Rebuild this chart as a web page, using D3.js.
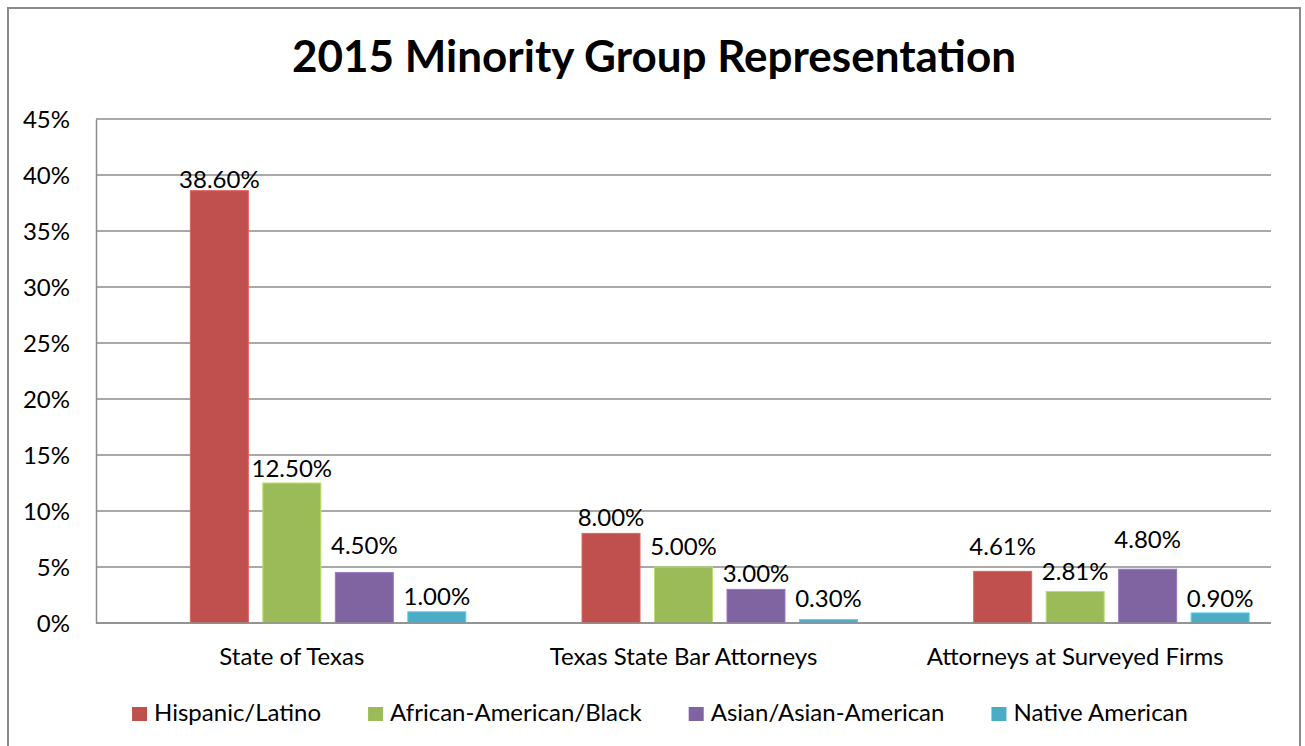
<!DOCTYPE html>
<html>
<head>
<meta charset="utf-8">
<script src="https://cdn.jsdelivr.net/npm/d3@7"></script>
<style>
  html, body { margin: 0; padding: 0; background: #fff; }
  svg { display: block; font-family: Lato, "Open Sans", sans-serif; }
</style>
</head>
<body>
<div id="chart"></div>
<script>
//
// DATA
//

const categories = ['State of Texas', 'Texas State Bar Attorneys', 'Attorneys at Surveyed Firms'];
const seriesNames = ['Hispanic/Latino', 'African-American/Black', 'Asian/Asian-American', 'Native American'];

// percent values, one per category
const hispanic = [38.60, 8.00, 4.61];
const african = [12.50, 5.00, 2.81];
const asian = [4.50, 3.00, 4.80];
const native = [1.00, 0.30, 0.90];

// where Excel put each data label (in % on the value axis)
const hispanicLabelAt = [39.6, 9.4, 6.8];
const africanLabelAt = [13.8, 6.8, 4.6];
const asianLabelAt = [6.9, 4.4, 7.5];
const nativeLabelAt = [2.4, 2.2, 2.2];

const yTicks = [0, 5, 10, 15, 20, 25, 30, 35, 40, 45];

const colors = ['#C0504D', '#9BBB59', '#8064A2', '#4BACC6'];

const series = [hispanic, african, asian, native];
const labelAt = [hispanicLabelAt, africanLabelAt, asianLabelAt, nativeLabelAt];

//
// CHART
//

const width = 1305;
const height = 746;
const margin = {top: 119, right: 34, bottom: 123, left: 96};
const fontSize = 24;

const svg = d3.select('#chart')
    .append('svg')
        .attr('width', width)
        .attr('height', height);

// chart area border (bottom edge runs off the page)
svg.append('rect')
    .attr('x', 8)
    .attr('y', 8)
    .attr('width', 1292)
    .attr('height', 760)
    .attr('fill', '#fff')
    .attr('stroke', '#8a8a8a')
    .attr('stroke-width', 2);

// title
svg.append('text')
    .attr('x', 654)
    .attr('y', 72)
    .attr('text-anchor', 'middle')
    .attr('font-weight', 700)
    .attr('font-size', 44)
    .attr('fill', '#000')
    .text('2015 Minority Group Representation');

// scales
const x0 = d3.scaleBand()
    .domain(categories)
    .range([margin.left, width - margin.right])
    .paddingInner(0.1116)
    .paddingOuter(0.0558);
// first slot is the workbook's blank series, so the bars sit right of centre
const x1 = d3.scaleBand()
    .domain(['', ...seriesNames])
    .range([0, x0.bandwidth()])
    .paddingInner(0.2)
    .paddingOuter(0);
const y = d3.scaleLinear()
    .domain([0, 45])
    .range([height - margin.bottom, margin.top]);

// gridlines
svg.append('g')
    .selectAll('line')
    .data(yTicks)
    .join('line')
        .attr('x1', margin.left)
        .attr('x2', width - margin.right)
        .attr('y1', d => y(d))
        .attr('y2', d => y(d))
        .attr('stroke', '#8c8c8c')
        .attr('stroke-width', 1.5);

// y axis
const yx = g =>
    g
        .attr('transform', `translate(${margin.left},0)`)
        .call(d3.axisLeft(y)
            .tickValues(yTicks)
            .tickSize(0)
            .tickPadding(26)
            .tickFormat(d => `${d}%`))
        .call(g => g.select('.domain')
            .attr('stroke', '#8c8c8c')
            .attr('stroke-width', 1.5))
        .call(g => g.selectAll('.tick text')
            .attr('font-family', 'Lato, sans-serif')
            .attr('font-size', fontSize)
            .attr('dy', 8.5)
            .attr('fill', '#000'));
svg.append('g').call(yx);

// x axis
const xx = g =>
    g
        .attr('transform', `translate(0,${height - margin.bottom})`)
        .call(d3.axisBottom(x0)
            .tickSize(0))
        .call(g => g.select('.domain')
            .attr('d', `M${margin.left},0H${width - margin.right}`)
            .attr('stroke', '#8c8c8c')
            .attr('stroke-width', 1.5))
        .call(g => g.selectAll('.tick text')
            .attr('font-family', 'Lato, sans-serif')
            .attr('font-size', fontSize)
            .attr('y', 42)
            .attr('dy', 0)
            .attr('fill', '#000'));

// bars
const groups = svg.append('g')
    .selectAll('g')
    .data(categories)
    .join('g')
        .attr('transform', d => `translate(${x0(d)},0)`);

const cells = (c, ci) => seriesNames.map((s, si) => ({
    series: s,
    value: series[si][ci],
    label: labelAt[si][ci],
    color: colors[si]
}));

groups.selectAll('rect')
    .data(cells)
    .join('rect')
        .attr('x', d => x1(d.series))
        .attr('y', d => y(d.value))
        .attr('width', x1.bandwidth())
        .attr('height', d => y(0) - y(d.value))
        .attr('fill', d => d.color)
        .attr('stroke', d => d3.color(d.color).brighter(0.5))
        .attr('stroke-width', 1);

svg.append('g').call(xx);

// data labels
groups.selectAll('text')
    .data(cells)
    .join('text')
        .attr('x', d => x1(d.series) + x1.bandwidth() / 2)
        .attr('y', d => y(d.label))
        .attr('dy', 8.5)
        .attr('text-anchor', 'middle')
        .attr('font-size', fontSize)
        .attr('fill', '#000')
        .text(d => `${d.value.toFixed(2)}%`);

// legend
const legend = svg.append('g');
const items = legend.selectAll('g')
    .data(seriesNames)
    .join('g');
items.append('rect')
    .attr('y', 707)
    .attr('width', 15)
    .attr('height', 14)
    .attr('fill', (d, i) => colors[i]);
items.append('text')
    .attr('x', 22)
    .attr('y', 721)
    .attr('font-size', fontSize)
    .attr('fill', '#000')
    .text(d => d);

let lx = 0;
items.each(function() {
    const w = d3.select(this).select('text').node().getComputedTextLength();
    d3.select(this).attr('transform', `translate(${lx},0)`);
    lx += 22 + w + 47;
});
lx -= 47;
legend.attr('transform', `translate(${660 - lx / 2},0)`);
</script>
</body>
</html>
